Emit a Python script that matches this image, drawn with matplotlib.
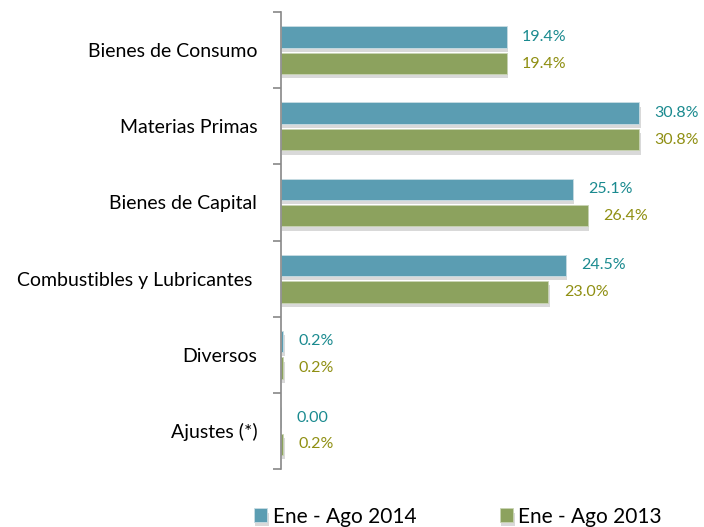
import matplotlib.pyplot as plt
import matplotlib.patheffects as pe
import numpy as np

# datos
categorias = ['Bienes de Consumo', 'Materias Primas', 'Bienes de Capital',
              'Combustibles y Lubricantes ', 'Diversos', 'Ajustes (*)']
valores_2014 = [19.4, 30.8, 25.1, 24.5, 0.2, 0.0]
valores_2013 = [19.4, 30.8, 26.4, 23.0, 0.2, 0.2]
etiquetas_2014 = ['19.4%', '30.8%', '25.1%', '24.5%', '0.2%', '0.00']
etiquetas_2013 = ['19.4%', '30.8%', '26.4%', '23.0%', '0.2%', '0.2%']
series = ['Ene - Ago 2014', 'Ene - Ago 2013']

plt.rcParams['font.family'] = ['Lato', 'DejaVu Sans']

fig = plt.figure(figsize=(7.04, 5.27), dpi=100)
ax = fig.add_axes([0.399, 0.110, 0.58, 0.867])

y = np.arange(len(categorias))
h = 0.28
off = 0.175
c14, c13 = '#5b9db2', '#8ca25e'
t14, t13 = '#1a8a8f', '#8f8f12'
sombra = [pe.SimplePatchShadow(offset=(1, -3), alpha=0.15, shadow_rgbFace='black'), pe.Normal()]

b1 = ax.barh(y - off, valores_2014, height=h, color=c14, edgecolor='#c9dde3', linewidth=0.6,
             label=series[0], path_effects=sombra)
b2 = ax.barh(y + off, valores_2013, height=h, color=c13, edgecolor='#c9d4b5', linewidth=0.6,
             label=series[1], path_effects=sombra)

for yi, v, t in zip(y, valores_2014, etiquetas_2014):
    ax.annotate(t, (v, yi - off), xytext=(11, 0), textcoords='offset points',
                va='center', ha='left', fontsize=11.5, color=t14)
for yi, v, t in zip(y, valores_2013, etiquetas_2013):
    ax.annotate(t, (v, yi + off), xytext=(11, 0), textcoords='offset points',
                va='center', ha='left', fontsize=11.5, color=t13)

ax.set_xlim(0, 35.1)
ax.set_ylim(len(categorias) - 0.5, -0.5)
ax.set_yticks(y)
ax.set_yticklabels(categorias, fontsize=14)
ax.set_yticks(np.arange(len(categorias) + 1) - 0.5, minor=True)
ax.tick_params(axis='y', which='major', length=0, pad=17)
ax.tick_params(axis='y', which='minor', length=6, color='#888888', width=1.2)
ax.set_xticks([])
for s in ['top', 'right', 'bottom']:
    ax.spines[s].set_visible(False)
ax.spines['left'].set_color('#888888')
ax.spines['left'].set_linewidth(1.2)

fig.legend(handles=[b1, b2], labels=series, loc='lower left', bbox_to_anchor=(0.334, -0.035),
           ncol=2, frameon=False, fontsize=15, handlelength=0.65, handleheight=0.65,
           handletextpad=0.25, columnspacing=4.0)

plt.savefig('out.png')
